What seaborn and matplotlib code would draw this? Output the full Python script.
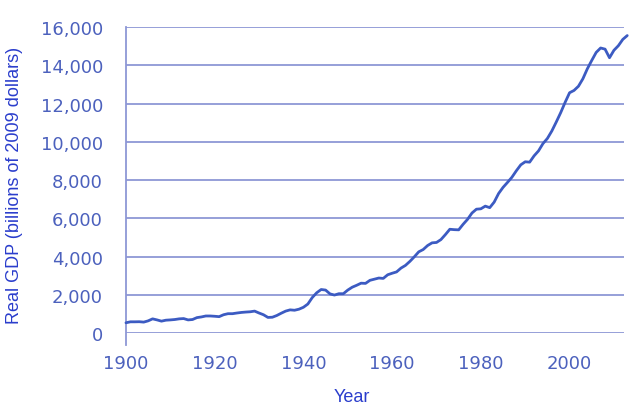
"""
Real GDP of the United States, 1900-2013 (billions of 2009 dollars)
"""
import matplotlib
matplotlib.use("Agg")
import matplotlib.pyplot as plt
import matplotlib.ticker as mticker
import seaborn as sns
import pandas as pd

# values
years = list(range(1900, 2014))
gdp = [
    540, 590, 590, 595, 575, 640, 745, 690, 625, 675,        # 1900s
    690, 710, 745, 760, 690, 710, 810, 845, 895, 895,        # 1910s
    880, 860, 960, 1015, 1015, 1050, 1080, 1100, 1115, 1150,  # 1920s
    1050, 960, 820, 830, 920, 1040, 1150, 1215, 1195, 1250,   # 1930s
    1350, 1520, 1860, 2110, 2280, 2250, 2050, 1990, 2060, 2060,  # 1940s
    2250, 2400, 2500, 2610, 2600, 2760, 2820, 2880, 2860, 3050,  # 1950s
    3130, 3200, 3400, 3540, 3750, 3990, 4250, 4370, 4580, 4720,  # 1960s
    4740, 4890, 5150, 5430, 5410, 5400, 5690, 5950, 6280, 6480,  # 1970s
    6500, 6640, 6560, 6850, 7300, 7620, 7880, 8150, 8490, 8800,  # 1980s
    8960, 8940, 9270, 9530, 9910, 10180, 10570, 11040, 11530, 12070,  # 1990s
    12570, 12690, 12910, 13300, 13820, 14260, 14680, 14910, 14850, 14400,  # 2000s
    14790, 15030, 15360, 15560,                                 # 2010s
]

grid_color = "#8e97d6"
tick_text_color = "#4c61bd"
label_color = "#2a3dcc"
line_color = "#3c5bc2"

df = pd.DataFrame({"Year": years, "GDP": gdp})

sns.set_style("white")
plt.rcParams["font.family"] = ["Liberation Sans", "DejaVu Sans"]

fig = plt.figure(figsize=(6.33, 4.14), dpi=100)
ax = fig.add_axes([0.199, 0.193, 0.787, 0.739])

sns.lineplot(data=df, x="Year", y="GDP", ax=ax, color=line_color,
             linewidth=2.0, clip_on=False, zorder=3)

ax.set_xlim(1900, 2012.3)
ax.set_ylim(0, 16000)
ax.set_xticks(range(1900, 2001, 20))
ax.set_yticks(range(0, 16001, 2000))
ax.yaxis.set_major_formatter(mticker.FuncFormatter(lambda v, p: f"{int(v):,}"))

ax.yaxis.grid(True, color=grid_color, linewidth=1.3)
ax.xaxis.grid(False)
ax.set_axisbelow(True)

for side in ["top", "right", "bottom"]:
    ax.spines[side].set_visible(False)
ax.spines["left"].set_color(grid_color)
ax.spines["left"].set_linewidth(1.3)
ax.spines["left"].set_bounds(-600, 16000)

ax.tick_params(axis="y", length=6.5, width=1.3, color=grid_color, pad=10,
               labelsize=13, labelcolor=tick_text_color)
ax.tick_params(axis="x", length=7, width=1.3, color=grid_color, pad=8,
               labelsize=13, labelcolor=tick_text_color)
for lbl in ax.get_xticklabels() + ax.get_yticklabels():
    lbl.set_family("DejaVu Sans")

ax.set_xlabel("Year", color=label_color, fontsize=13)
ax.set_ylabel("Real GDP (billions of 2009 dollars)", color=label_color,
              fontsize=13)
ax.xaxis.set_label_coords(0.454, -0.206)
ax.yaxis.set_label_coords(-0.224, 0.487)
ax.xaxis.label.set_va("center")
ax.yaxis.label.set_va("center")

fig.savefig("out.png", dpi=100)
